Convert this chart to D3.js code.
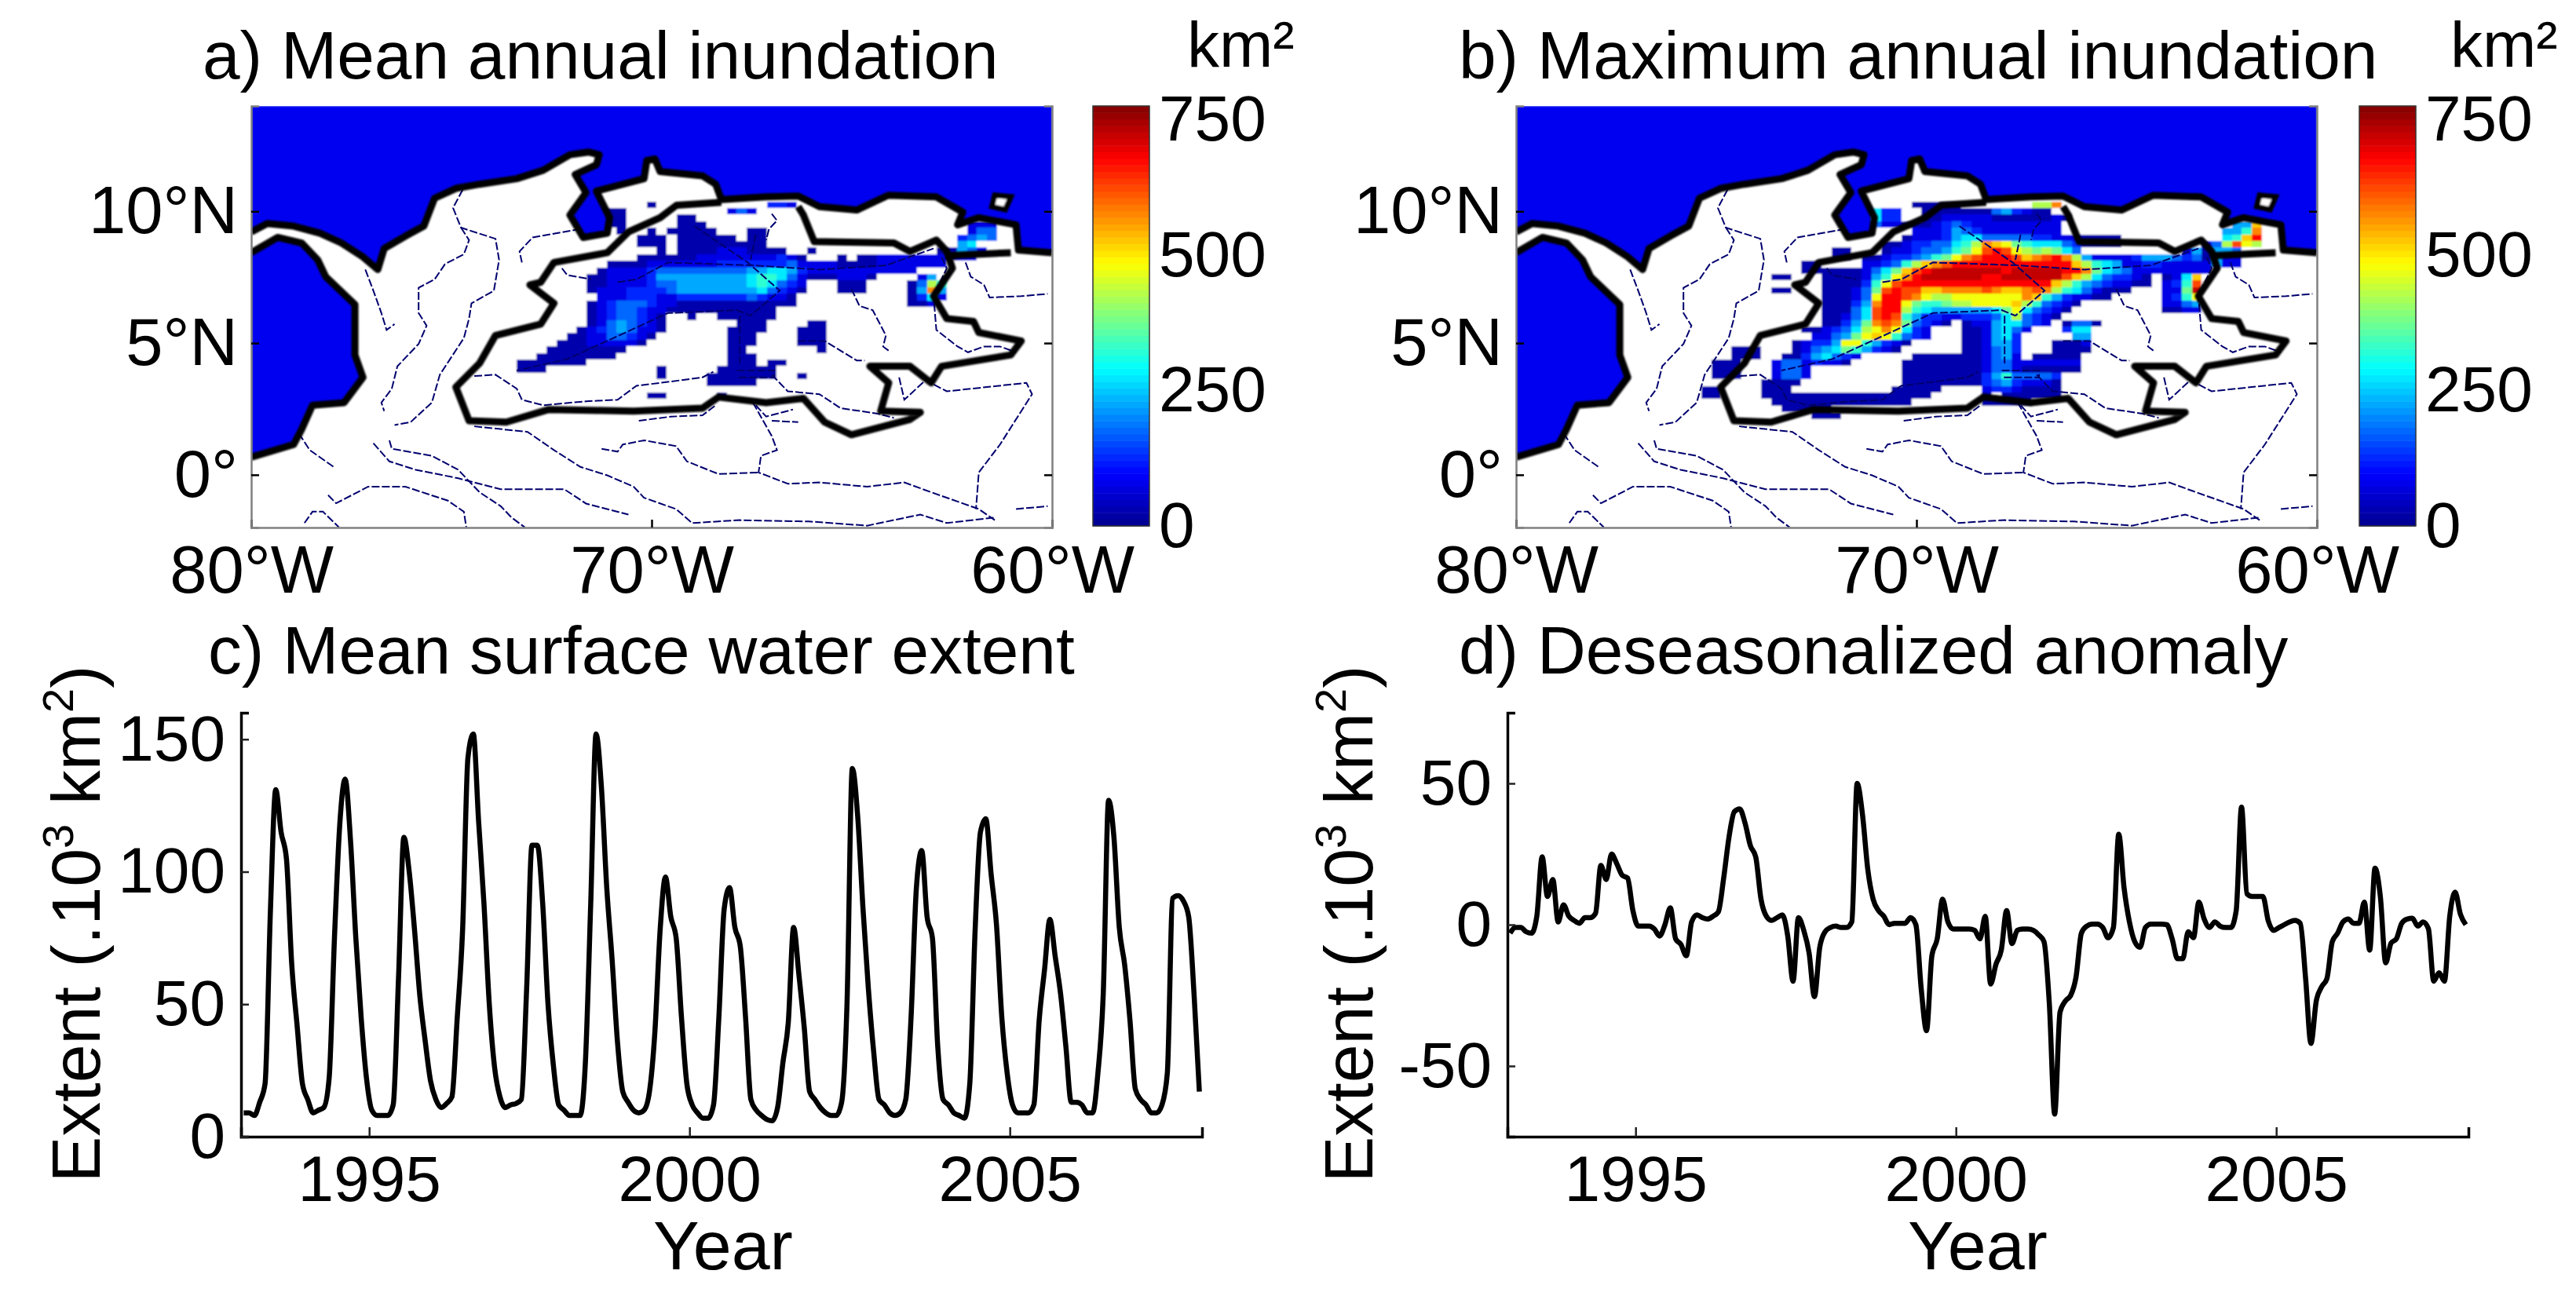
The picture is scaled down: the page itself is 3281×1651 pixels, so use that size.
<!DOCTYPE html>
<html>
<head>
<meta charset="utf-8">
<title>Orinoco inundation</title>
<script src="https://cdnjs.cloudflare.com/ajax/libs/d3/7.8.5/d3.min.js"></script>
<style>
  body { margin: 0; background: #fff; font-family: "Liberation Sans", Arial, sans-serif; }
  text { fill: #000; }
</style>
</head>
<body>
<div id="chart"></div>
<script>
// ---- line panels, monthly 1993-2007, 10^3 km2
var meanExtent = [
  9,9,8,13,20,85,131,115,105,65,42,20,
  14,9,10,11,22,75,118,135,112,75,45,22,
  10,8,8,8,12,60,113,100,78,53,36,21,
  14,11,12.5,15,45,78,143,152,119,88,50,26,
  15,11,12,12.5,14,56,110,110,88,50,27,12,
  10,8,8,8,28,88,152,132,94,67,36,17,
  13,10,9,10,17,39,78,98,83,75,45,20,
  12,9,7,7,12,45,86,94,79,72,45,14,
  10,8,6.5,6,11,28,43,79,61,41,17,14,
  11,9,8,8,13,50,139,121,86,56,32,14,
  12,9,8,9,14,45,94,108,83,75,34,14,
  12,9,8,7,20,78,115,120,99,80,45,24,
  12,9,9,9,12,44,63,82,68,54,34,13,
  13,12,9,9,24,54,127,113,79,65,44,18,
  14,12,9,9,12,24,90,91,89,83,54,17
];
var anomaly = [
  -3,-1,-1,-2.5,-3,3,24,10,16,1,7,3,
  1.5,0.5,2.5,2.5,4,21,16,25,21.5,17.5,16.5,5,
  -0.5,-0.5,-0.5,-1.5,-4,0,6,-5,-7,-11,1,3.5,
  2.5,2,3,4.5,16.5,31,40,41,36,28,24,9,
  3,1.5,2.5,3.5,-4,-20,2.5,-2,-10,-25.5,-8,-2.5,
  -1,-0.5,-1,-1,1,50,39,19.5,9,5,3,0,
  0.5,0.5,0.5,2.5,0,-22.6,-37.5,-11,-5,9,1,-1.5,
  -1.5,-1.5,-1.5,-2,-5,3,-21,-14,-9,5,-6.7,-2,
  -1.5,-1.5,-2,-3.6,-6,-28,-67,-31,-27,-25,-18.5,-3,
  -0.5,0.2,0.2,-1,-4.6,-1,32,13,1,-6,-8,-1,
  0.2,0.2,0.2,0,-5,-12,-12,-2.5,-4.6,8,2,-1,
  1,-0.5,-1,-1,5,41.6,11,10,10,10,1.4,-2,
  -1,0,1,1.5,0.5,-19,-42,-27,-22,-19,-6,-3,
  1,2,0.5,0.5,8,-9,20,10,-13.5,-6.5,-5,0.5,
  2,2.3,-0.5,1,-1.4,-20,-17,-20,3,11.5,3.7,0
];
var yearTicks = [1995, 2000, 2005];
var extentTicks = [0, 50, 100, 150];
var anomalyTicks = [-50, 0, 50];

// ---- raster: [row, column, one hex digit per cell], digit*50+25 km2
// row 0 top edge is 10.625N, column 0 left edge is 75.375W, cells are 0.25 deg
var meanCells = [
  [1,21,"0"],[1,33,"221"],
  [2,17,"00"],[2,29,"131"],
  [3,17,"00"],[3,24,"00"],
  [4,17,"00"],[4,24,"000"],[4,53,"111"],
  [5,18,"0"],[5,21,"0"],[5,23,"00000"],[5,31,"00"],[5,53,"133"],
  [6,20,"000"],[6,24,"000000"],[6,31,"00"],[6,52,"2343"],
  [7,20,"000"],[7,24,"000000000"],[7,52,"45"],
  [8,22,"0"],[8,24,"00001110000"],[8,37,"0"],[8,50,"00"],[8,52,"431"],
  [9,20,"00000011111111210"],[9,40,"0"],[9,42,"0011111110"],[9,52,"11"],
  [10,17,"0000111111122222223111100001111111"],
  [11,16,"01111233333333344554211111111111"],
  [12,15,"00111124444444445665310001110"],[12,48,"14"],
  [13,15,"0011112334444444565321"],[13,40,"000"],[13,47,"0386"],
  [14,15,"01112222344444444 53210".replace(" ","")],[14,40,"000"],[14,47,"04b4"],
  [15,16,"11122211222222232110"],[15,47,"0251"],
  [16,15,"012333211000000000000"],[16,47,"001"],
  [17,15,"0123321100000000000"],
  [18,15,"01233210"],[18,25,"0"],[18,28,"000000"],
  [19,15,"01343210"],[19,30,"000"],[19,37,"00"],
  [20,14,"012343110"],[20,29,"0000"],[20,36,"000"],
  [21,13,"001133210"],[21,29,"000"],[21,36,"000"],
  [22,12,"000111110"],[22,29,"000"],[22,36,"000"],
  [23,11,"00000000"],[23,29,"00"],[23,38,"0"],
  [24,10,"00000000"],[24,29,"000"],
  [25,8,"0000000"],[25,29,"000"],[25,33,"00"],
  [26,8,"000"],[26,22,"0"],[26,28,"000000"],
  [27,22,"0"],[27,27,"0000000"],[27,36,"0"],
  [28,27,"00000"],
  [30,21,"00"],[30,28,"0"]
];
var maxCells = [
  [1,21,"00000"],[1,33,"88b"],
  [2,17,"522"],[2,22,"0000000342100"],
  [3,17,"522"],[3,22,"001111100000010"],
  [4,17,"311000"],[4,23,"1232111111111"],[4,53,"44a"],
  [5,21,"111243211111111"],[5,52,"446b"],
  [6,20,"0111245533333221110000"],[6,52,"56ad"],
  [7,18,"001223356"+"8ba97655532"+"0000"],[7,50,"138c98"],
  [8,13,"00"],[8,18,"0112334679cdc9878753"],[8,48,"140443"],
  [9,13,"00"],[9,16,"0012234679bcdddcabcdb8"],[9,38,"4111124443230411"],
  [10,10,"00"],[10,16,"112368abcdddddddddddda8654112211111411"],
  [11,10,"00"],[11,12,"0000"+"1357acd"+"eeeeeee"+"d"+"eeeee"+"ddb75431"+"1111111"],
  [12,7,"00"],[12,12,"0000"+"1469bd"+"eeeeee"+"dd"+"eeeeee"+"ca8532210"],[12,46,"015a"],
  [13,12,"0000"+"269c"+"ddddddddddddddd"+"a8643211"+"00"],[13,46,"126c"],
  [14,7,"00"],[14,12,"000"+"137cdcca"+"abbbbcbaabcb8653"+"1000"],[14,46,"117e"],
  [15,12,"000"+"139ddcb98"+"89999999ba642110"+"0"],[15,46,"1269"],
  [16,12,"000"+"24bdd97667889999a86321"+"0"],[16,46,"1134"],
  [17,12,"000"+"35cdd865"+"444444"+"57953210"],[17,46,"0011"],
  [18,12,"00"+"135cdc64"+"2211222"+"3583210"],
  [19,12,"00"+"247bcb7321"+"0"],[19,26,"011455321"],[19,36,"0330"],
  [20,10,"00"+"123589b9521"],[20,26,"0014531"],[20,36,"255"],
  [21,11,"113479a96321"],[21,26,"001452"],[21,37,"44"],
  [22,9,"0"+"12249964210"],[22,26,"001442"],[22,35,"0001"],
  [23,3,"000"],[23,9,"0"+"1345764210"],[23,26,"001342"],[23,35,"0000"],
  [24,3,"000"],[24,8,"00"+"245321"],[24,21,"0000000"+"1341"],[24,33,"00000"],
  [25,1,"000"],[25,7,"13312110"],[25,20,"00000000"+"1331"+"111111"],
  [26,1,"000"],[26,7,"1331"],[26,20,"00000000"+"1331"+"000000"],
  [27,1,"000"],[27,7,"1331"],[27,20,"00000000"+"2463"+"3332"],
  [28,6,"0000"],[28,20,"00000000"+"2342"+"1110"],
  [29,0,"00"],[29,6,"000"],[29,19,"00000"],[29,28,"12210000"],
  [30,0,"00"],[30,6,"00000000000000000"],[30,28,"0"],[30,30,"000000"],
  [31,7,"00000000000000"],[31,28,"00000"],
  [32,8,"00000"],
  [33,11,"000"]
];

// ---- map outlines, [lon, lat]
var landRing = [
  [-80,9.22],[-79.6,9.54],[-78.94,9.44],[-78.28,9.17],[-77.75,8.8],[-77.21,8.27],[-76.84,7.79],
  [-76.68,8.59],[-76.15,9.06],[-75.69,9.44],[-75.42,10.5],[-74.89,10.87],[-74.3,11.03],[-73.37,11.24],
  [-72.71,11.56],[-72.04,12.15],[-71.58,12.25],[-71.31,12.15],[-71.38,11.77],[-71.91,11.4],[-71.64,10.71],
  [-72.04,9.86],[-71.71,9.01],[-71.11,9.17],[-71.05,9.76],[-71.38,10.77],[-70.19,11.24],[-70.12,11.93],
  [-69.92,11.99],[-69.79,11.51],[-68.73,11.35],[-68.4,11.03],[-68.26,10.45],[-67.14,10.55],[-66.34,10.58],
  [-65.81,10.18],[-64.88,10.05],[-64.09,10.61],[-62.89,10.55],[-62.23,9.97],[-62.36,9.49],[-61.83,9.76],
  [-60.9,9.49],[-60.84,8.53],[-60,8.43],[-60,-2],[-80,-2],[-80,0.67],[-78.94,1.15],[-78.74,1.73],
  [-78.47,2.64],[-77.68,2.74],[-77.21,3.7],[-77.41,4.55],[-77.41,6.46],[-78.14,7.52],[-78.34,8.16],
  [-78.74,8.8],[-79.34,9.01],[-80,8.43]
];
var trinidad = [[-61.43,10.61],[-61.03,10.55],[-61.17,10.07],[-61.5,10.18]];
var basinLine = [
  [-68.26,10.34],[-69.38,10.23],[-69.79,9.76],[-70.58,9.22],[-71.11,8.43],[-72.44,8.06],[-72.77,7.31],
  [-73.04,7.21],[-72.44,6.51],[-72.77,5.72],[-73.9,5.29],[-74.3,4.23],[-74.89,3.33],[-74.56,2.05],
  [-73.63,2],[-72.57,2.48],[-70.45,2.42],[-68.73,2.53],[-68.33,2.95],[-67.14,2.74],[-66.21,2.9],
  [-65.68,2],[-65.01,1.52],[-63.55,2.1],[-63.29,2.37],[-64.28,2.42],[-64.08,3.49],[-64.55,4.12],
  [-63.55,4.12],[-63.02,3.49],[-62.76,4.12],[-61.03,4.55],[-60.77,5.08],[-61.83,5.4],[-61.96,5.82],
  [-62.63,5.93],[-62.96,6.78],[-62.49,7.84],[-62.63,8.48],[-62.89,8.91],[-63.55,8.48],[-63.95,8.8],
  [-65.94,8.85],[-66.21,9.86],[-66.34,10.18]
];
var deltaLine = [[-62.63,8.32],[-61.03,8.43]];
var rivers = [
  [[-74.72,10.82],[-74.96,10.13],[-74.76,9.38],[-73.9,8.96],[-73.81,8.16],[-73.94,6.99],[-74.5,6.51],[-74.56,5.93],[-74.69,5.19],[-75.29,3.8],[-75.49,2.74],[-76.02,2],[-76.42,1.89]],
  [[-74.76,9.38],[-74.56,8.91],[-74.69,8.37],[-75.16,8],[-75.42,7.42],[-75.82,7.1],[-75.82,6.14],[-75.62,5.66],[-75.82,4.97],[-76.35,4.12],[-76.49,3.27],[-76.75,2.74],[-76.68,2.42]],
  [[-77.15,7.79],[-76.95,6.99],[-76.75,6.14],[-76.62,5.5],[-76.42,5.72]],
  [[-71.78,9.33],[-72.97,9.01],[-73.3,8.48],[-73.24,8.06]],
  [[-72.24,7.84],[-72.11,7.58],[-71.51,7.42]],
  [[-70.85,7.31],[-70.38,7.42],[-69.59,8.06],[-67.47,7.95],[-65.81,7.79],[-64.15,7.95],[-62.96,8.59]],
  [[-68.93,9.44],[-67.6,8.06],[-66.8,6.99],[-67.53,6.04],[-67.87,6.25],[-69.59,6.14],[-72.11,4.39],[-73.37,3.96]],
  [[-67.8,6.04],[-67.8,4.23]],
  [[-67.87,3.96],[-66.94,3.96],[-66.94,3.7],[-67.87,3.7]],
  [[-67.4,9.12],[-67.53,8.16]],
  [[-67,9.91],[-66.87,9.65],[-67.07,9.33],[-67.14,8.91]],
  [[-65.01,7.05],[-64.81,6.41],[-64.48,6.25],[-64.15,5.29],[-64.22,4.87],[-64.08,4.71]],
  [[-62.76,8.27],[-62.63,7.84],[-62.96,6.78],[-62.89,5.5],[-62.36,4.87],[-62.1,4.65],[-61.7,4.87],[-61.3,4.87],[-60.9,4.65]],
  [[-62.16,8.06],[-62.03,7.52],[-61.7,7.21],[-61.56,6.73],[-60.77,6.78],[-60.11,6.87]],
  [[-66.34,5.08],[-65.68,5.08],[-64.88,4.34],[-64.68,4.34]],
  [[-74.43,3.75],[-73.9,3.8],[-73.37,3.27],[-73.24,2.85],[-72.71,2.64],[-71.64,2.79],[-70.85,2.85],[-70.38,3.38],[-69.52,3.54],[-68.73,3.7],[-68.46,3.91]],
  [[-67,3.8],[-66.6,3.17],[-65.81,3.06],[-65.28,2.53],[-64.35,2.32],[-63.95,2.16]],
  [[-70.32,2.05],[-69.52,2.21],[-68.73,2.26],[-68.4,2.64]],
  [[-67.47,2.74],[-67,1.47],[-66.87,0.94],[-67.27,0.72],[-67.33,0.09],[-66.6,-0.34],[-65.81,-0.29],[-64.62,-0.45],[-63.69,-0.29],[-63.02,-0.66],[-61.83,-1.3],[-61.43,-1.72]],
  [[-74.43,1.84],[-73.1,1.63],[-72.44,0.94],[-71.78,0.3],[-71.11,-0.02],[-70.45,-0.45],[-70.19,-0.87],[-69.39,-1.3],[-68.99,-1.83],[-67.8,-1.72],[-66.07,-1.77],[-64.62,-1.93],[-63.29,-1.51],[-62.63,-1.83],[-61.43,-1.62]],
  [[-71.25,0.99],[-70.85,0.88],[-70.72,1.15],[-70.19,1.31],[-69.39,1.09],[-69.12,0.51],[-68.33,0.03],[-67.33,0.09]],
  [[-78.81,1.57],[-78.54,0.94],[-77.94,0.3]],
  [[-76.95,1.2],[-76.55,0.51],[-75.89,0.19],[-74.83,-0.13],[-73.77,-0.55],[-72.18,-0.55],[-71.64,-1.09],[-70.58,-1.51]],
  [[-76.55,1.31],[-76.49,0.99],[-75.49,0.72],[-74.83,0.19],[-74.3,-0.66],[-73.77,-1.19],[-73.5,-1.62],[-73.17,-1.99]],
  [[-78.08,-0.77],[-77.88,-1.08],[-77.08,-0.45],[-76.15,-0.45],[-75.09,-0.98],[-74.69,-1.4],[-74.63,-1.99]],
  [[-78.67,-1.83],[-78.47,-1.4],[-78.21,-1.4],[-77.81,-1.99]],
  [[-63.82,3.7],[-63.69,2.85],[-63.16,3.59],[-62.63,3.17],[-60.64,3.49],[-60.5,3.06],[-61.3,1.15],[-61.83,0.09],[-61.9,-1.3]],
  [[-60.9,-1.3],[-60.11,-1.19]],
  [[-67.4,2.64],[-67.14,2.21],[-66.47,2.48]],
  [[-67,2.05],[-66.34,2]]
];
var lonTicks = [-80, -70, -60];
var lonLabels = ["80°W", "70°W", "60°W"];
var latTicks = [0, 5, 10];
var latLabels = ["0°", "5°N", "10°N"];
var barTicks = [0, 250, 500, 750];

var FS = 82, FS_MAP = 85, FS_TITLE = 85.6, FS_LABEL = 88;
var H = 1651, W = 3281;

var svg = d3.select("#chart").append("svg").attr("width", W).attr("height", H);
var defs = svg.append("defs");
defs.append("filter").attr("id", "soft").attr("x", "-2%").attr("y", "-2%").attr("width", "104%").attr("height", "104%")
  .append("feGaussianBlur").attr("stdDeviation", 0.9);

// matlab jet
var jet = d3.scaleLinear()
  .domain([0, 0.125, 0.375, 0.625, 0.875, 1].map(function(d) { return d * 775; }))
  .range(["#00008f", "#0000ff", "#00ffff", "#ffff00", "#ff0000", "#800000"])
  .clamp(true);

function title(x, y, s) {
  svg.append("text").attr("x", x).attr("y", y).attr("font-size", FS_TITLE).text(s);
}

function drawMap(left, right, id, cells, barLeft, kmX) {
  var x = d3.scaleLinear().domain([-80, -60]).range([left, right]);
  var y = d3.scaleLinear().domain([-2, 14]).range([672, 135]);
  var line = d3.line().x(function(d) { return x(d[0]); }).y(function(d) { return y(d[1]); });

  defs.append("clipPath").attr("id", id).append("rect")
    .attr("x", left).attr("y", 135).attr("width", right - left).attr("height", 537);

  var outer = svg.append("g").attr("clip-path", "url(#" + id + ")");
  var g = outer.append("g").attr("filter", "url(#soft)");
  g.append("rect").attr("x", left).attr("y", 135).attr("width", right - left).attr("height", 537).attr("fill", "#0000f0");
  g.append("path").attr("d", line(landRing) + "Z").attr("fill", "#fff").attr("stroke", "none");

  var flat = [];
  cells.forEach(function(s) {
    s[2].split("").forEach(function(c, i) {
      flat.push({ row: s[0], col: s[1] + i, value: parseInt(c, 16) * 50 + 25 });
    });
  });
  g.selectAll("rect.cell").data(flat).enter().append("rect")
    .attr("class", "cell")
    .attr("x", function(d) { return x(-75.375 + d.col * 0.25); })
    .attr("y", function(d) { return y(10.625 - d.row * 0.25); })
    .attr("width", x(0.25) - x(0))
    .attr("height", y(0) - y(0.25))
    .attr("fill", function(d) { return jet(d.value); })
    .attr("shape-rendering", "crispEdges");

  outer.selectAll("path.river").data(rivers).enter().append("path")
    .attr("class", "river")
    .attr("d", line)
    .attr("fill", "none")
    .attr("stroke", "#00006e")
    .attr("stroke-width", 2)
    .attr("stroke-dasharray", "10 3");

  // coast only, not the frame edges
  var gc = outer.append("g").attr("filter", "url(#soft)");
  gc.append("path").attr("d", line(trinidad) + "Z").attr("fill", "#fff").attr("stroke", "#000").attr("stroke-width", 7);
  var coastA = landRing.slice(0, 45), coastB = landRing.slice(47);
  [coastA, coastB, basinLine, deltaLine].forEach(function(l) {
    gc.append("path").attr("d", line(l)).attr("fill", "none").attr("stroke", "#000")
      .attr("stroke-width", 9).attr("stroke-linejoin", "round");
  });

  // axes
  var xAxis = d3.axisBottom(x).tickValues(lonTicks).tickSize(-10).tickPadding(23)
    .tickFormat(function(d, i) { return lonLabels[i]; });
  var gx = svg.append("g").attr("transform", "translate(0,672)").call(xAxis);
  var yAxis = d3.axisLeft(y).tickValues(latTicks).tickSize(-10).tickPadding(17)
    .tickFormat(function(d, i) { return latLabels[i]; });
  var gy = svg.append("g").attr("transform", "translate(" + left + ",0)").call(yAxis);
  var yr = svg.append("g").attr("transform", "translate(" + right + ",0)")
    .call(d3.axisRight(y).tickValues(latTicks).tickSize(-10).tickFormat(""));
  [gx, gy, yr].forEach(function(a) {
    a.attr("font-family", null).attr("font-size", FS_MAP);
    a.selectAll("line").attr("stroke", "#000").attr("stroke-width", 2.5);
    a.select(".domain").attr("stroke", "#808080").attr("stroke-width", 2.5);
  });

  // colour bar, 64 steps like the matlab colormap
  var cb = d3.scaleLinear().domain([0, 775]).range([670, 135]);
  var steps = d3.range(64).map(function(i) { return i * 775 / 64; });
  svg.selectAll(null).data(steps).enter().append("rect")
    .attr("x", barLeft)
    .attr("y", function(d) { return cb(d + 775 / 64); })
    .attr("width", 72)
    .attr("height", cb(0) - cb(775 / 64) + 0.5)
    .attr("fill", function(d) { return jet(d + 775 / 128); });
  svg.append("rect").attr("x", barLeft).attr("y", 135).attr("width", 72).attr("height", 535)
    .attr("fill", "none").attr("stroke", "#333").attr("stroke-width", 1.5);
  var gb = svg.append("g").attr("transform", "translate(" + (barLeft + 72) + ",0)")
    .call(d3.axisRight(cb).tickValues(barTicks).tickSize(0).tickPadding(12));
  gb.attr("font-family", null).attr("font-size", FS);
  gb.select(".domain").remove();

  svg.append("text").attr("x", kmX).attr("y", 85).attr("font-size", FS).text("km²");
}

function drawLine(left, series, yDom, ticks, yLabelX, yearX) {
  var x = d3.scaleLinear().domain([1993, 2008]).range([left, left + 1224]);
  var y = d3.scaleLinear().domain(yDom).range([1448, 908]);
  var line = d3.line()
    .curve(d3.curveMonotoneX)
    .x(function(d, i) { return x(1993 + (i + 0.5) / 12); })
    .y(function(d) { return y(d); });

  svg.append("path").attr("d", line(series)).attr("fill", "none").attr("stroke", "#000").attr("stroke-width", 6.5);

  var gx = svg.append("g").attr("transform", "translate(0,1448)")
    .call(d3.axisBottom(x).tickValues(yearTicks).tickSize(-12).tickPadding(24).tickFormat(d3.format("d")));
  var gy = svg.append("g").attr("transform", "translate(" + left + ",0)")
    .call(d3.axisLeft(y).tickValues(ticks).tickSize(-10).tickPadding(20).tickFormat(d3.format("d")));
  gy.selectAll("text").text(function(d) { return String(d); });
  [gx, gy].forEach(function(a) {
    a.attr("font-family", null).attr("font-size", FS);
    a.selectAll("line").attr("stroke", "#222").attr("stroke-width", 2.5);
    a.select(".domain").attr("stroke", "#000").attr("stroke-width", 3.5);
  });

  svg.append("text").attr("x", yearX).attr("y", 1617).attr("text-anchor", "middle").attr("font-size", FS_LABEL).text("Year");

  var t = svg.append("text").attr("transform", "translate(" + yLabelX + ",1177) rotate(-90)")
    .attr("text-anchor", "middle").attr("font-size", FS_LABEL);
  t.append("tspan").text("Extent (.10");
  t.append("tspan").attr("font-size", 56).attr("dy", -34).text("3");
  t.append("tspan").attr("dy", 34).text(" km");
  t.append("tspan").attr("font-size", 56).attr("dy", -34).text("2");
  t.append("tspan").attr("dy", 34).text(")");
}

drawMap(320, 1340, "clipA", meanCells, 1392, 1512);
drawMap(1931, 2951, "clipB", maxCells, 3005, 3121);
drawLine(307, meanExtent, [0, 160], extentTicks, 127, 921);
drawLine(1920, anomaly, [-75, 75], anomalyTicks, 1748, 2519);

title(258, 100, "a) Mean annual inundation");
title(1858, 100, "b) Maximum annual inundation");
title(265, 858, "c) Mean surface water extent");
title(1858, 858, "d) Deseasonalized anomaly");
</script>
</body>
</html>
